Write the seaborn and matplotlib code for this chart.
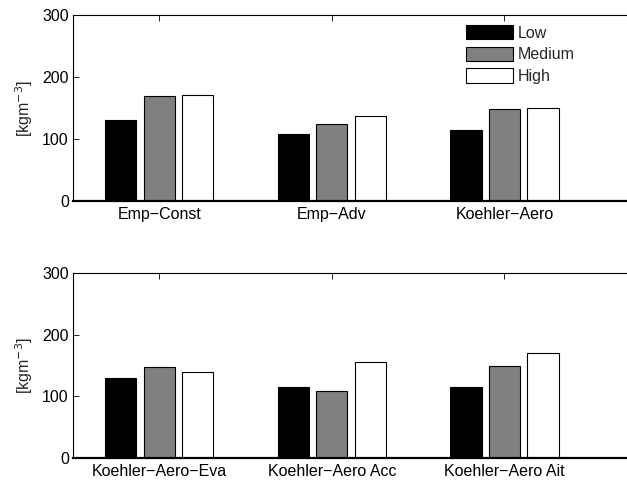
import numpy as np
import pandas as pd
import seaborn as sns
import matplotlib.pyplot as plt

levels = ['Low', 'Medium', 'High']

top_cases = ['Emp\u2212Const', 'Emp\u2212Adv', 'Koehler\u2212Aero']
top_low = [130, 108, 115]
top_medium = [170, 125, 149]
top_high = [171, 137, 150]

bot_cases = ['Koehler\u2212Aero\u2212Eva', 'Koehler\u2212Aero Acc', 'Koehler\u2212Aero Ait']
bot_low = [130, 115, 115]
bot_medium = [147, 108, 150]
bot_high = [140, 155, 171]


def make_df(cases, low, medium, high):
    rows = []
    for lev, vals in zip(levels, [low, medium, high]):
        for c, v in zip(cases, vals):
            rows.append({'case': c, 'level': lev, 'value': v})
    return pd.DataFrame(rows)


sns.set_style('white')
plt.rcParams['font.family'] = ['Liberation Sans', 'DejaVu Sans']
fs = 11.5

fig = plt.figure(figsize=(6.27, 4.82), dpi=100)
ax1 = fig.add_axes([73 / 627, 1 - 201 / 482, (627 - 73) / 627, 186 / 482])
ax2 = fig.add_axes([73 / 627, 1 - 458 / 482, (627 - 73) / 627, 185 / 482])

palette = ['black', '0.5', 'white']

for ax, df, cases in [(ax1, make_df(top_cases, top_low, top_medium, top_high), top_cases),
                      (ax2, make_df(bot_cases, bot_low, bot_medium, bot_high), bot_cases)]:
    sns.barplot(data=df, x='case', y='value', hue='level', order=cases,
                hue_order=levels, palette=palette, saturation=1,
                width=0.67, gap=0.19, edgecolor='black', linewidth=0.8, ax=ax)
    ax.set_xlim(-0.5, 2.71)
    ax.set_ylim(0, 300)
    ax.set_yticks([0, 100, 200, 300])
    ax.set_xlabel('')
    ax.set_ylabel('[kgm$^{-3}$]', fontsize=fs, labelpad=5)
    ax.spines['right'].set_visible(False)
    for s in ['top', 'left']:
        ax.spines[s].set_linewidth(0.8)
        ax.spines[s].set_color('black')
    ax.spines['bottom'].set_linewidth(1.6)
    ax.spines['bottom'].set_color('black')
    ax.tick_params(axis='both', direction='in', length=4, width=0.6,
                   colors='black', labelsize=fs)
    ax.tick_params(axis='x', top=True, bottom=True, pad=4)
    ax.tick_params(axis='y', left=True, pad=3)
    ax.get_legend().remove()

handles, labels = ax1.get_legend_handles_labels()
fig.legend(handles, labels, loc='upper left',
           bbox_to_anchor=(466 / 627, 1 - 25 / 482), frameon=False,
           borderpad=0, borderaxespad=0, handlelength=2.95, handleheight=1.0,
           labelspacing=0.38, handletextpad=0.3, fontsize=fs)

fig.savefig('out.png', dpi=100)
